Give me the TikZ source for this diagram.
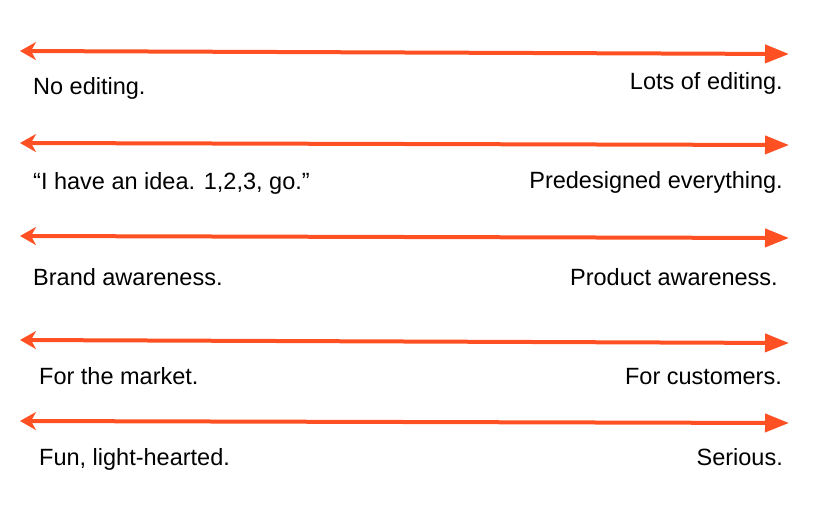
\documentclass[tikz,border=0pt]{standalone}
\usepackage{fontspec}
\setmainfont{Liberation Sans}
\usetikzlibrary{arrows.meta}
\definecolor{arr}{RGB}{255,80,35}
\tikzset{
  scale line/.style={draw=arr, line width=4pt,
    arrows={Stealth[length=16pt,width=18pt,inset=5pt]-Triangle[length=24pt,width=18pt]}},
  lbl/.style={inner sep=0pt, font=\fontsize{23.5pt}{26pt}\selectfont, text=black},
}
\begin{document}
\begin{tikzpicture}[x=1pt,y=-1pt]
\useasboundingbox (0,0) rectangle (832,508);
% row 1
\coordinate (a1) at (20,51);
\coordinate (b1) at (789,54);
\draw[scale line] (a1) -- (b1);
\node[lbl, anchor=base west] (l1) at (33,95) {No editing.};
\node[lbl, anchor=base east] (r1) at (783,90) {Lots of editing.};
% row 2
\coordinate (a2) at (20,143);
\coordinate (b2) at (789,145);
\draw[scale line] (a2) -- (b2);
\node[lbl, anchor=base west] (l2) at (33,189) {“I have an idea. 1,2,3, go.”};
\node[lbl, anchor=base east] (r2) at (783,188) {Predesigned everything.};
% row 3
\coordinate (a3) at (20,236);
\coordinate (b3) at (789,238);
\draw[scale line] (a3) -- (b3);
\node[lbl, anchor=base west] (l3) at (33,285) {Brand awareness.};
\node[lbl, anchor=base east] (r3) at (778,285) {Product awareness.};
% row 4
\coordinate (a4) at (20,340);
\coordinate (b4) at (789,343);
\draw[scale line] (a4) -- (b4);
\node[lbl, anchor=base west] (l4) at (39,384) {For the market.};
\node[lbl, anchor=base east] (r4) at (782,384) {For customers.};
% row 5
\coordinate (a5) at (20,421);
\coordinate (b5) at (789,423);
\draw[scale line] (a5) -- (b5);
\node[lbl, anchor=base west] (l5) at (39,465) {Fun, light-hearted.};
\node[lbl, anchor=base east] (r5) at (783,465) {Serious.};
\end{tikzpicture}
\end{document}
